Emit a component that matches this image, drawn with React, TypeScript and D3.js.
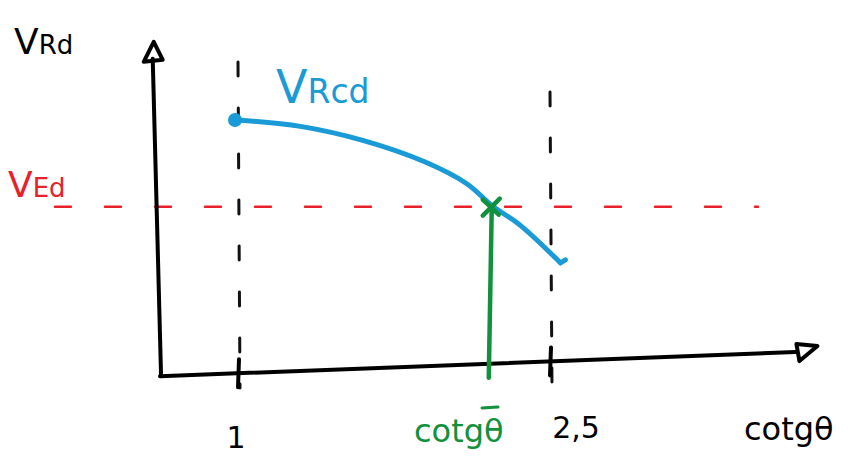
import React from "react";
import * as d3 from "d3";

// Shear resistance V_Rcd as a function of cot θ
const cotValues = [1, 1.3, 1.6, 1.9, 2.1, 2.22, 2.36, 2.55];
const vrcdValues = [1.0, 0.975, 0.92, 0.835, 0.75, 0.665, 0.585, 0.44];

// Design shear action V_Ed
const vEd = 0.66;
// Intersection of V_Rcd with V_Ed
const cotBar = 2.22;
// Limits of cot θ
const cotLimits = [1, 2.5];
const cotTickLabels = ["1", "2,5"];

const W = 851;
const H = 470;

const x = d3.scaleLinear().domain([1, 2.5]).range([238, 550]);
const y = d3.scaleLinear().domain([0, 1]).range([375, 120]);

const font = "'DejaVu Sans', 'Liberation Sans', sans-serif";

export default function App() {
  const pts = cotValues.map((c, i) => [x(c), y(vrcdValues[i])] as [number, number]);
  const curve = d3.line().curve(d3.curveCatmullRom.alpha(0.5))(pts) || "";
  const last = pts[pts.length - 1];

  // axis end points
  const ax0: [number, number] = [x(0.625), y(-0.005)];
  const ax1: [number, number] = [x(3.68), y(0.09)];
  const ay0: [number, number] = [x(0.63), y(0)];
  const ay1: [number, number] = [x(0.59), y(1.24)];

  const axisYAt = (px: number) =>
    ax0[1] + ((px - ax0[0]) / (ax1[0] - ax0[0])) * (ax1[1] - ax0[1]);

  return (
    <svg width={W} height={H} style={{ display: "block", position: "absolute", left: 0, top: 0 }}>
      <rect width={W} height={H} fill="#fff" />
      <g strokeLinecap="round" strokeLinejoin="round" fill="none">
        {/* vertical dashed guides at the cot θ limits */}
        {cotLimits.map((c, i) => (
          <line
            key={c}
            x1={x(c)}
            x2={x(c) + 2}
            y1={i === 0 ? 62 : 92}
            y2={388}
            stroke="#111"
            strokeWidth={3}
            strokeDasharray="14 32"
          />
        ))}

        {/* V_Ed level */}
        <line
          x1={x(0.12)}
          x2={x(3.5)}
          y1={y(vEd)}
          y2={y(vEd)}
          stroke="#e8202a"
          strokeWidth={2.5}
          strokeDasharray="16 34"
        />

        {/* y axis */}
        <line x1={ay0[0]} y1={ay0[1]} x2={ay1[0]} y2={ay1[1]} stroke="#000" strokeWidth={4} />
        <path
          d={`M${ay1[0] - 9},${ay1[1] + 3} L${ay1[0] + 1},${ay1[1] - 17} L${ay1[0] + 10},${ay1[1] + 1} Z`}
          stroke="#000"
          strokeWidth={4}
        />

        {/* x axis */}
        <line x1={ax0[0]} y1={ax0[1]} x2={ax1[0]} y2={ax1[1]} stroke="#000" strokeWidth={4} />
        <path
          d={`M${ax1[0] + 1},${ax1[1] - 8} L${ax1[0] + 22},${ax1[1] - 6} L${ax1[0] + 4},${ax1[1] + 9} Z`}
          stroke="#000"
          strokeWidth={4}
        />

        {/* tick marks */}
        {cotLimits.map((c) => (
          <line
            key={"t" + c}
            x1={x(c) + 1}
            x2={x(c)}
            y1={axisYAt(x(c)) - 14}
            y2={axisYAt(x(c)) + 14}
            stroke="#000"
            strokeWidth={4}
          />
        ))}

        {/* V_Rcd curve */}
        <path d={curve} stroke="#1a9ad6" strokeWidth={5} />
        <path
          d={`M${last[0]},${last[1]} l5,-3`}
          stroke="#1a9ad6"
          strokeWidth={5}
        />
        <circle cx={pts[0][0] - 3} cy={pts[0][1]} r={7} fill="#1a9ad6" stroke="none" />

        {/* cot θ̄ at V_Rcd = V_Ed */}
        <line
          x1={x(cotBar)}
          x2={x(cotBar) - 3}
          y1={y(vEd)}
          y2={axisYAt(x(cotBar)) + 14}
          stroke="#11913b"
          strokeWidth={4.5}
        />
        <path
          d={`M${x(cotBar) - 9},${y(vEd) - 7} L${x(cotBar) + 7},${y(vEd) + 8} M${x(cotBar) + 8},${y(vEd) - 8} L${x(cotBar) - 9},${y(vEd) + 9}`}
          stroke="#11913b"
          strokeWidth={4.5}
        />
      </g>

      {/* labels */}
      <g fontFamily={font}>
        <text x={14} y={54} fontSize={36} fill="#000">
          V<tspan fontSize={26}>Rd</tspan>
        </text>
        <text x={276} y={103} fontSize={46} fill="#1a9ad6">
          V<tspan fontSize={33}>Rcd</tspan>
        </text>
        <text x={8} y={197} fontSize={36} fill="#e8202a">
          V<tspan fontSize={26}>Ed</tspan>
        </text>
        {cotLimits.map((c, i) => (
          <text
            key={"l" + c}
            x={x(c) + (i === 0 ? -2 : 26)}
            y={i === 0 ? 448 : 438}
            fontSize={30}
            textAnchor="middle"
            fill="#000"
          >
            {cotTickLabels[i]}
          </text>
        ))}
        <text x={744} y={440} fontSize={32} fill="#000">
          cotgθ
        </text>
        <text x={414} y={442} fontSize={32} fill="#11913b">
          cotgθ
        </text>
        <line x1={482} x2={498} y1={408} y2={407} stroke="#11913b" strokeWidth={3} strokeLinecap="round" />
      </g>
    </svg>
  );
}
